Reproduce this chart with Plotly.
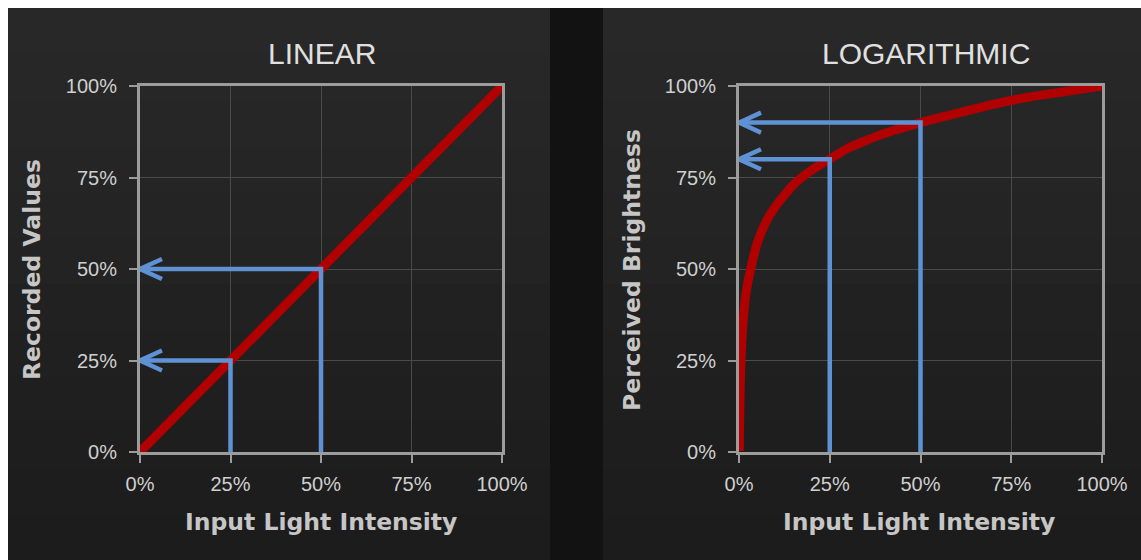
import plotly.graph_objects as go

# ---------------- data ----------------
TICK_VALUES = [0, 25, 50, 75, 100]
TICK_LABELS = ["0%", "25%", "50%", "75%", "100%"]

PANEL_TITLES = ["LINEAR", "LOGARITHMIC"]
X_TITLE = "Input Light Intensity"
Y_TITLES = ["Recorded Values", "Perceived Brightness"]

LINEAR_INPUT = [0, 25, 50, 75, 100]
LINEAR_OUTPUT = [0, 25, 50, 75, 100]

LOG_INPUT = [0.1, 0.15, 0.2, 0.3, 0.45, 0.6, 1, 2, 3, 5, 7.5, 10, 15, 20, 25, 30, 40, 50, 60, 70, 80, 90, 100]
LOG_OUTPUT = [0.3, 6, 10, 16, 22, 26, 34, 44, 49, 57, 63, 67, 73, 77, 80, 83, 87, 90, 92.5, 95, 97, 98.5, 100]

LINEAR_MARK_INPUT = [25, 50]
LINEAR_MARK_OUTPUT = [25, 50]
LOG_MARK_INPUT = [25, 50]
LOG_MARK_OUTPUT = [80, 90]

# ---------------- style ----------------
W, H = 1141, 560
RED = "#b00000"
BLUE = "#5f92d4"
FRAME = "#9c9c9c"
GRID = "#4a4a4a"
TICK_FONT = dict(family="Liberation Sans, Arial, sans-serif", size=20, color="#cfcfcf")
BOLD_FONT = dict(family="DejaVu Sans, sans-serif", size=23.5, color="#c6c6c6", weight="bold")
TITLE_FONT = dict(family="Liberation Sans, Arial, sans-serif", size=30, color="#e0e0e0")

PLOT_LEFT = [140, 739]
PLOT_RIGHT = [502, 1102]
PLOT_TOP, PLOT_BOTTOM = 86, 452
ARROW_LEN_PX, ARROW_HALF_PX = 22, 10


def px_x(px):
    return px / W


def px_y(py):
    return 1 - py / H


fig = go.Figure()

panels = [
    (LINEAR_INPUT, LINEAR_OUTPUT, LINEAR_MARK_INPUT, LINEAR_MARK_OUTPUT),
    (LOG_INPUT, LOG_OUTPUT, LOG_MARK_INPUT, LOG_MARK_OUTPUT),
]

for i, (cx, cy, mx, my) in enumerate(panels):
    xa = "x" if i == 0 else "x2"
    ya = "y" if i == 0 else "y2"
    fig.add_trace(go.Scatter(x=cx, y=cy, mode="lines", xaxis=xa, yaxis=ya,
                             line=dict(color=RED, width=9, shape="spline", smoothing=0.6),
                             hoverinfo="skip", showlegend=False))
    span_px_x = PLOT_RIGHT[i] - PLOT_LEFT[i]
    span_px_y = PLOT_BOTTOM - PLOT_TOP
    dx = ARROW_LEN_PX * (TICK_VALUES[-1] - TICK_VALUES[0]) / span_px_x
    dy = ARROW_HALF_PX * (TICK_VALUES[-1] - TICK_VALUES[0]) / span_px_y
    for xv, yv in zip(mx, my):
        fig.add_trace(go.Scatter(x=[xv, xv, TICK_VALUES[0]], y=[TICK_VALUES[0], yv, yv],
                                 mode="lines", xaxis=xa, yaxis=ya,
                                 line=dict(color=BLUE, width=4.5),
                                 hoverinfo="skip", showlegend=False))
        fig.add_trace(go.Scatter(x=[TICK_VALUES[0] + dx, TICK_VALUES[0], TICK_VALUES[0] + dx],
                                 y=[yv + dy, yv, yv - dy],
                                 mode="lines", xaxis=xa, yaxis=ya,
                                 line=dict(color=BLUE, width=4.5),
                                 hoverinfo="skip", showlegend=False))

axis_common = dict(
    range=[TICK_VALUES[0], TICK_VALUES[-1]],
    tickmode="array", tickvals=TICK_VALUES, ticktext=TICK_LABELS,
    showgrid=True, gridcolor=GRID, gridwidth=1, zeroline=False,
    showline=True, linecolor=FRAME, linewidth=3, mirror=True,
    ticks="outside", ticklen=8, tickwidth=2, tickcolor=FRAME,
    tickfont=TICK_FONT, fixedrange=True, automargin=False,
)
ydom = [px_y(PLOT_BOTTOM), px_y(PLOT_TOP)]

layout = dict(
    width=W, height=H,
    margin=dict(l=0, r=0, t=0, b=0),
    paper_bgcolor="white",
    plot_bgcolor="rgba(0,0,0,0)",
    showlegend=False,
    xaxis=dict(domain=[px_x(PLOT_LEFT[0]), px_x(PLOT_RIGHT[0])], anchor="y", ticklabelstandoff=4, **axis_common),
    yaxis=dict(domain=ydom, anchor="x", ticklabelstandoff=8, **axis_common),
    xaxis2=dict(domain=[px_x(PLOT_LEFT[1]), px_x(PLOT_RIGHT[1])], anchor="y2", ticklabelstandoff=4, **axis_common),
    yaxis2=dict(domain=ydom, anchor="x2", ticklabelstandoff=8, **axis_common),
)

# background panels (vertical gradient approximated by overlapping bands)
shapes = []
N = 12
top, bottom = 8, H
for k in range(N):
    y0 = top + (bottom - top) * k / N
    y1 = bottom
    t = k / (N - 1)
    c = round(0x28 + (0x1c - 0x28) * t)
    col = f"rgb({c},{c},{c})"
    for (a, b) in [(8, 550), (603, W)]:
        shapes.append(dict(type="rect", xref="paper", yref="paper", layer="below",
                           x0=px_x(a), x1=px_x(b), y0=px_y(y1), y1=px_y(y0),
                           fillcolor=col, line=dict(width=0)))
shapes.append(dict(type="rect", xref="paper", yref="paper", layer="below",
                   x0=px_x(550), x1=px_x(603), y0=0, y1=px_y(8),
                   fillcolor="#121212", line=dict(width=0)))
layout["shapes"] = shapes

annotations = []
for title, cx in zip(PANEL_TITLES, [322, 926]):
    annotations.append(dict(text=title, x=px_x(cx), y=px_y(54), xref="paper", yref="paper",
                            xanchor="center", yanchor="middle", showarrow=False, font=TITLE_FONT))
for cx in [321, 919]:
    annotations.append(dict(text=X_TITLE, x=px_x(cx), y=px_y(522), xref="paper", yref="paper",
                            xanchor="center", yanchor="middle", showarrow=False, font=BOLD_FONT))
for title, cx in zip(Y_TITLES, [32, 632]):
    annotations.append(dict(text=title, x=px_x(cx), y=px_y(270), xref="paper", yref="paper",
                            xanchor="center", yanchor="middle", showarrow=False, textangle=-90,
                            font=BOLD_FONT))
layout["annotations"] = annotations

fig.update_layout(**layout)
fig.write_html("out.html", config={"displayModeBar": False},
               post_script="document.body.style.margin='0';document.body.style.overflow='hidden';")
